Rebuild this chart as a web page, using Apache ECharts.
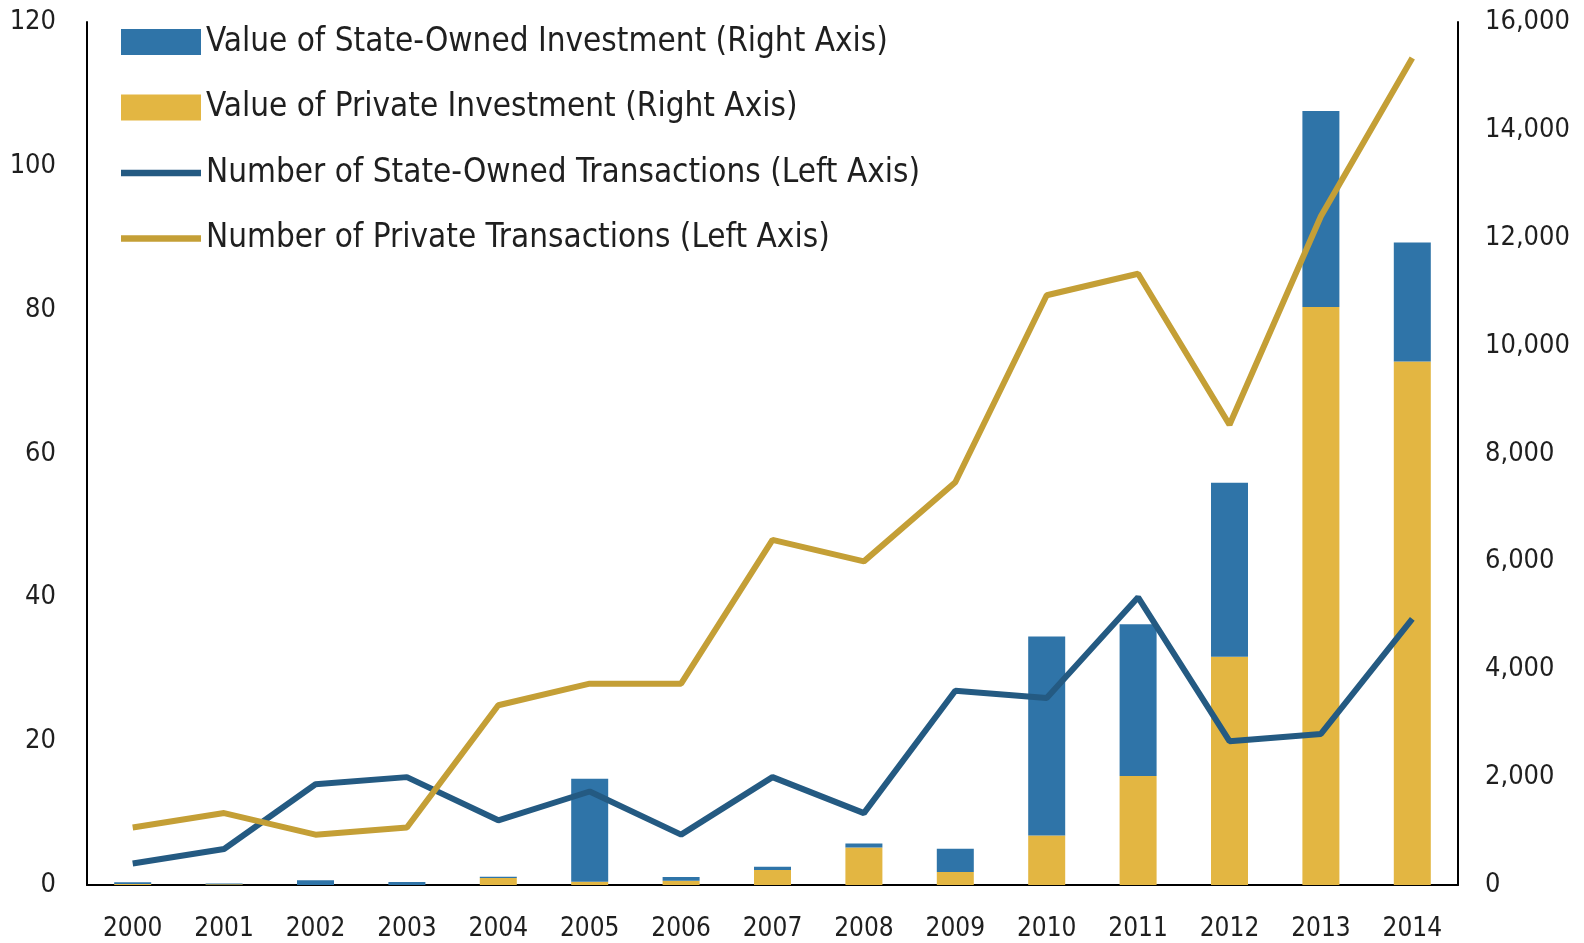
<!DOCTYPE html>
<html>
<head>
<meta charset="utf-8">
<script src="https://cdn.jsdelivr.net/npm/echarts@6/dist/echarts.min.js"></script>
<style>
html,body{margin:0;padding:0;background:#fff;}
#chart{width:1584px;height:943px;}
</style>
</head>
<body>
<div id="chart"></div>
<script>
const years = ['2000','2001','2002','2003','2004','2005','2006','2007','2008','2009','2010','2011','2012','2013','2014'];
const privateValue = [20, 15, 0, 0, 130, 60, 80, 280, 693, 243, 918, 2023, 4234, 10716, 9704];
const stateValue = [30, 15, 90, 55, 25, 1910, 70, 60, 75, 430, 3690, 2810, 3222, 3634, 2210];
const stateCount = [3, 5, 14, 15, 9, 13, 7, 15, 10, 27, 26, 40, 20, 21, 37];
const privateCount = [8, 10, 7, 8, 25, 28, 28, 48, 45, 56, 82, 85, 64, 93, 115];

const names = [
  'Value of State-Owned Investment (Right Axis)',
  'Value of Private Investment (Right Axis)',
  'Number of State-Owned Transactions (Left Axis)',
  'Number of Private Transactions (Left Axis)'
];
const FONT = "'Liberation Sans Narrow','Arial Narrow','DejaVu Sans Condensed',sans-serif";
const TXT = '#1f1f1f';
const lineIcon = 'path://M0,0 M-4,9.5 L84,9.5 L84,16.5 L-4,16.5 Z M80,26';

const chart = echarts.init(document.getElementById('chart'), null, {renderer: 'canvas'});
chart.setOption({
  animation: false,
  backgroundColor: '#fff',
  grid: {left: 87, right: 126, top: 22, bottom: 58, containLabel: false},
  legend: {
    orient: 'vertical',
    left: 116,
    top: 17,
    itemWidth: 80,
    itemHeight: 26,
    itemGap: 25.5,
    selectedMode: false,
    textStyle: {fontFamily: FONT, fontSize: 33, color: TXT, lineHeight: 40},
    data: [
      {name: names[0], icon: 'rect'},
      {name: names[1], icon: 'rect'},
      {name: names[2], icon: lineIcon},
      {name: names[3], icon: lineIcon}
    ]
  },
  xAxis: {
    type: 'category',
    data: years,
    boundaryGap: true,
    axisLine: {show: true, lineStyle: {color: '#000', width: 2}},
    axisTick: {show: false},
    axisLabel: {fontFamily: FONT, fontSize: 26, color: TXT, margin: 31}
  },
  yAxis: [
    {
      type: 'value', position: 'left', min: 0, max: 120, interval: 20,
      axisLine: {show: true, lineStyle: {color: '#000', width: 2}},
      axisTick: {show: false},
      splitLine: {show: false},
      axisLabel: {fontFamily: FONT, fontSize: 27, color: TXT, margin: 31}
    },
    {
      type: 'value', position: 'right', min: 0, max: 16000, interval: 2000,
      axisLine: {show: true, lineStyle: {color: '#000', width: 2}},
      axisTick: {show: false},
      splitLine: {show: false},
      axisLabel: {fontFamily: FONT, fontSize: 27, color: TXT, margin: 27,
        formatter: v => v.toLocaleString('en-US')}
    }
  ],
  series: [
    {
      name: names[1], type: 'bar', stack: 'v', yAxisIndex: 1, barWidth: 37,
      itemStyle: {color: '#E3B642'}, data: privateValue, z: 2
    },
    {
      name: names[0], type: 'bar', stack: 'v', yAxisIndex: 1, barWidth: 37,
      itemStyle: {color: '#2F74A8'}, data: stateValue, z: 2
    },
    {
      name: names[2], type: 'line', yAxisIndex: 0, symbol: 'none',
      lineStyle: {color: '#245A82', width: 6}, itemStyle: {color: '#245A82'},
      data: stateCount, z: 3
    },
    {
      name: names[3], type: 'line', yAxisIndex: 0, symbol: 'none',
      lineStyle: {color: '#C49F36', width: 6}, itemStyle: {color: '#C49F36'},
      data: privateCount, z: 4
    }
  ]
});
</script>
</body>
</html>
